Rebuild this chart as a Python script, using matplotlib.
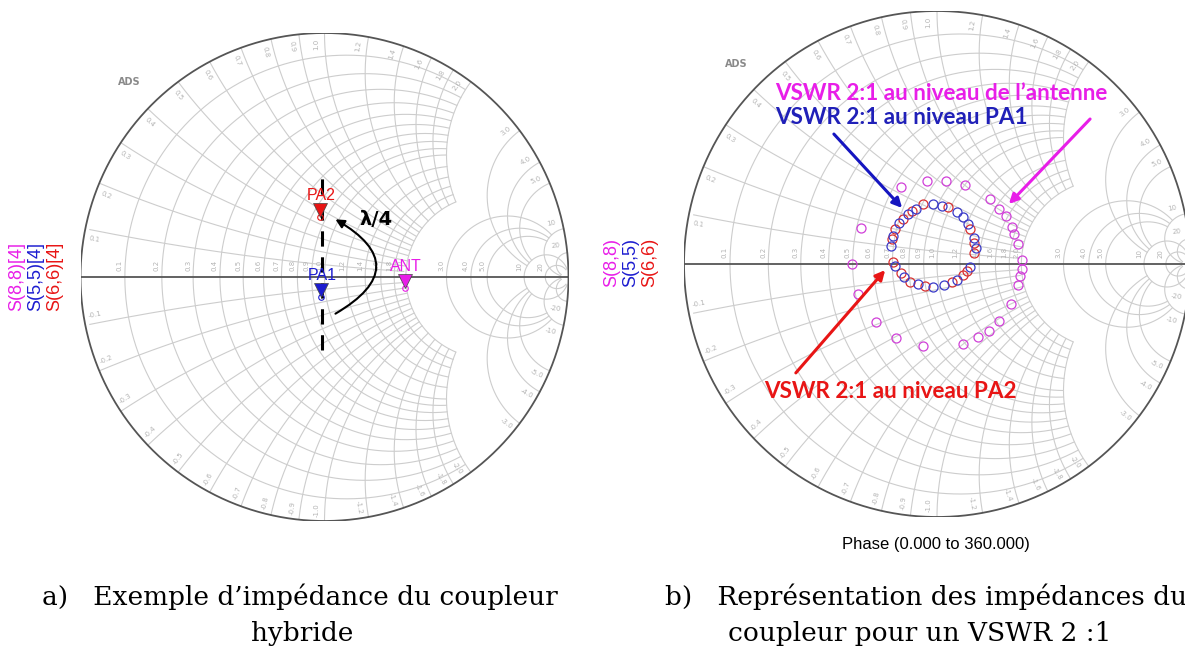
import numpy as np
import matplotlib.pyplot as plt

# ---- values read off the picture (reflection coefficient, real / imag) ----
# left chart: the three ports at sweep index [4]
mark_names = ['PA2', 'PA1', 'ANT']
mark_re = [-0.018, -0.014, 0.330]
mark_im = [0.246, -0.082, -0.045]

# right chart: phase sweep 0..360 of a 2:1 load
s88_re = [-0.144, -0.039, 0.036, 0.111, 0.208, 0.246, 0.272, 0.295, 0.305, 0.320, 0.335, 0.335, 0.328,
          0.320, 0.293, 0.246, 0.204, 0.163, 0.103, -0.057, -0.162, -0.241, -0.311, -0.335, -0.301]
s88_im = [0.305, 0.330, 0.330, 0.313, 0.256, 0.218, 0.190, 0.147, 0.119, 0.080, 0.014, -0.021, -0.049,
          -0.084, -0.157, -0.225, -0.263, -0.288, -0.316, -0.326, -0.291, -0.229, -0.117, 0.0, 0.143]
s55_re = [-0.016, 0.021, 0.081, 0.103, 0.123, 0.148, 0.153, 0.130, 0.081, 0.028, -0.016, -0.076,
          -0.129, -0.166, -0.181, -0.174, -0.151, -0.114, -0.084]
s55_im = [0.236, 0.228, 0.204, 0.187, 0.157, 0.101, 0.063, -0.011, -0.063, -0.084, -0.091, -0.080,
          -0.051, -0.007, 0.070, 0.112, 0.162, 0.197, 0.218]
s66_re = [-0.054, 0.043, 0.130, 0.148, 0.148, 0.118, 0.103, 0.058, -0.046, -0.106, -0.144, -0.174,
          -0.177, -0.166, -0.136, -0.099]
s66_im = [0.236, 0.225, 0.140, 0.084, 0.042, -0.028, -0.042, -0.073, -0.088, -0.070, -0.037, 0.007,
          0.098, 0.140, 0.176, 0.208]

# smith grid values
fine_vals = [0.1, 0.2, 0.3, 0.4, 0.5, 0.6, 0.7, 0.8, 0.9, 1.0, 1.2, 1.4, 1.6, 1.8, 2.0]
mid_vals = [3.0, 4.0, 5.0]
big_vals = [10, 20]

W, H = 1185, 647
fig = plt.figure(figsize=(W / 100, H / 100), dpi=100)

GRID = '#cdcdcd'
LAB = '#b4b4b4'
MAG = '#e81ee8'
BLUE = '#1c1cd0'
RED = '#e81515'


def chart_axes(cx, cy, rad):
    ax = fig.add_axes([(cx - rad) / W, (H - cy - rad) / H, 2 * rad / W, 2 * rad / H])
    ax.set_xlim(-1, 1)
    ax.set_ylim(-1, 1)
    ax.set_axis_off()
    return ax


def fmt(v):
    return '%d' % v if v >= 10 else '%.1f' % v


def smith_grid(ax):
    phi = np.linspace(0, 2 * np.pi, 3000)
    limits = [(fine_vals, 2.0), (mid_vals, 10.0), (big_vals, 60.0)]
    with np.errstate(all='ignore'):
        # resistance circles
        for vals, lim in limits:
            for r in vals:
                g = r / (r + 1) + np.exp(1j * phi) / (r + 1)
                z = (1 + g) / (1 - g)
                g = np.where(np.abs(z.imag) <= lim, g, np.nan)
                ax.plot(g.real, g.imag, color=GRID, lw=0.8, zorder=1)
                # label on the real axis
                gx = (r - 1) / (r + 1)
                ax.text(gx - 0.008, 0.025, fmt(r), rotation=90, fontsize=5, color=LAB,
                        ha='right', va='bottom', zorder=2)
        # reactance arcs
        for vals, lim in limits:
            for x in vals:
                for s in (1, -1):
                    xx = s * x
                    g = 1 + 1j / xx + np.exp(1j * phi) / x
                    z = (1 + g) / (1 - g)
                    ok = (np.abs(g) <= 1.0005) & (z.real <= lim)
                    g = np.where(ok, g, np.nan)
                    ax.plot(g.real, g.imag, color=GRID, lw=0.8, zorder=1)
                    th = np.pi - 2 * np.arctan(xx)
                    th = np.arctan2(np.sin(th), np.cos(th))
                    off = 0.035 * s
                    ax.text(0.955 * np.cos(th + off), 0.955 * np.sin(th + off),
                            fmt(x) if s > 0 else '-' + fmt(x),
                            rotation=np.degrees(th) if abs(th) <= np.pi / 2 else np.degrees(th) - 180,
                            fontsize=5, color=LAB, ha='center', va='center', zorder=2)
    t = np.linspace(0, 2 * np.pi, 600)
    ax.plot(np.cos(t), np.sin(t), color='#555555', lw=1.3, zorder=3)
    ax.plot([-1, 1], [0, 0], color='#555555', lw=1.3, zorder=3)


# ---------------- left chart ----------------
axl = chart_axes(324.5, 277, 244)
smith_grid(axl)
axl.text(-0.845, 0.80, 'ADS', fontsize=7, color='#8a8a8a', fontweight='bold', va='center')

axl.plot([-0.01, -0.01], [-0.30, 0.426], color='k', lw=2.2, dashes=(5, 3.5), zorder=4)
axl.annotate('', xy=(0.035, 0.242), xytext=(0.035, -0.156),
             arrowprops=dict(arrowstyle='-|>', connectionstyle='arc3,rad=0.88',
                             color='k', lw=1.5, mutation_scale=13), zorder=5)
axl.text(0.211, 0.234, 'λ/4', fontsize=14, fontweight='bold', ha='center', va='center', zorder=5)

mark_cols = [RED, BLUE, MAG]
for name, re, im, c in zip(mark_names, mark_re, mark_im, mark_cols):
    axl.plot(re, im, 'o', ms=4, mfc='none', mec=c, mew=0.8, zorder=5)
    axl.plot(re, im + 0.03, 'v', ms=10, color=c, mec='#444444', mew=0.5, zorder=6)
    axl.text(re + 0.005, im + 0.088, name, color=c, fontsize=11.5, ha='center', va='center',
             family='Liberation Sans', zorder=6)

for xp, lab, c in zip([17, 36, 55], ['S(8,8)[4]', 'S(5,5)[4]', 'S(6,6)[4]'], [MAG, BLUE, RED]):
    fig.text(xp / W, 1 - 276 / H, lab, rotation=90, color=c, fontsize=13, ha='center', va='center',
             family='Liberation Sans')

# ---------------- right chart ----------------
axr = chart_axes(937, 264, 253)
smith_grid(axr)
axr.text(-0.84, 0.78, 'ADS', fontsize=7, color='#8a8a8a', fontweight='bold')

axr.plot(s88_re, s88_im, 'o', ms=6.5, mfc='none', mec='#d040d8', mew=0.9, zorder=5)
axr.plot(s66_re, s66_im, 'o', ms=6.5, mfc='none', mec='#d83030', mew=0.9, zorder=5)
axr.plot(s55_re, s55_im, 'o', ms=6.5, mfc='none', mec='#3a3ac8', mew=0.9, zorder=6)


def px(x, y):
    return ((x - 937) / 253, (264 - y) / 253)


ann = dict(fontsize=16.2, fontweight='bold', family='Lato', ha='left', va='center', zorder=7,
           annotation_clip=False)
axr.annotate('VSWR 2:1 au niveau de l’antenne', xy=px(775, 93), color=MAG, **ann)
axr.annotate('VSWR 2:1 au niveau PA1', xy=px(775, 117), color='#2020b8', **ann)
axr.annotate('VSWR 2:1 au niveau PA2', xy=px(764, 391), color=RED, **ann)
for (x0, y0, x1, y1, c) in [(832, 132, 904, 210, '#1515c0'), (1092, 117, 1007, 206, MAG),
                            (794, 375, 887, 268, RED)]:
    axr.annotate('', xy=px(x1, y1), xytext=px(x0, y0),
                 arrowprops=dict(arrowstyle='-|>', color=c, lw=2.2, mutation_scale=14),
                 zorder=7)

for xp, lab, c in zip([612, 631, 650], ['S(8,8)', 'S(5,5)', 'S(6,6)'], [MAG, BLUE, RED]):
    fig.text(xp / W, 1 - 262 / H, lab, rotation=90, color=c, fontsize=13, ha='center', va='center',
             family='Liberation Sans')

fig.text(936 / W, 1 - 545 / H, 'Phase (0.000 to 360.000)', fontsize=12, ha='center', va='center',
         family='Liberation Sans')

# ---------------- captions ----------------
cap = dict(fontsize=19, family='DejaVu Serif', va='center')
fig.text(42 / W, 1 - 597 / H, 'a)   Exemple d’impédance du coupleur', ha='left', **cap)
fig.text(302 / W, 1 - 633 / H, 'hybride', ha='center', **cap)
fig.text(665 / W, 1 - 597 / H, 'b)   Représentation des impédances du', ha='left', **cap)
fig.text(920 / W, 1 - 633 / H, 'coupleur pour un VSWR 2 :1', ha='center', **cap)

fig.savefig('out.png', dpi=100)
